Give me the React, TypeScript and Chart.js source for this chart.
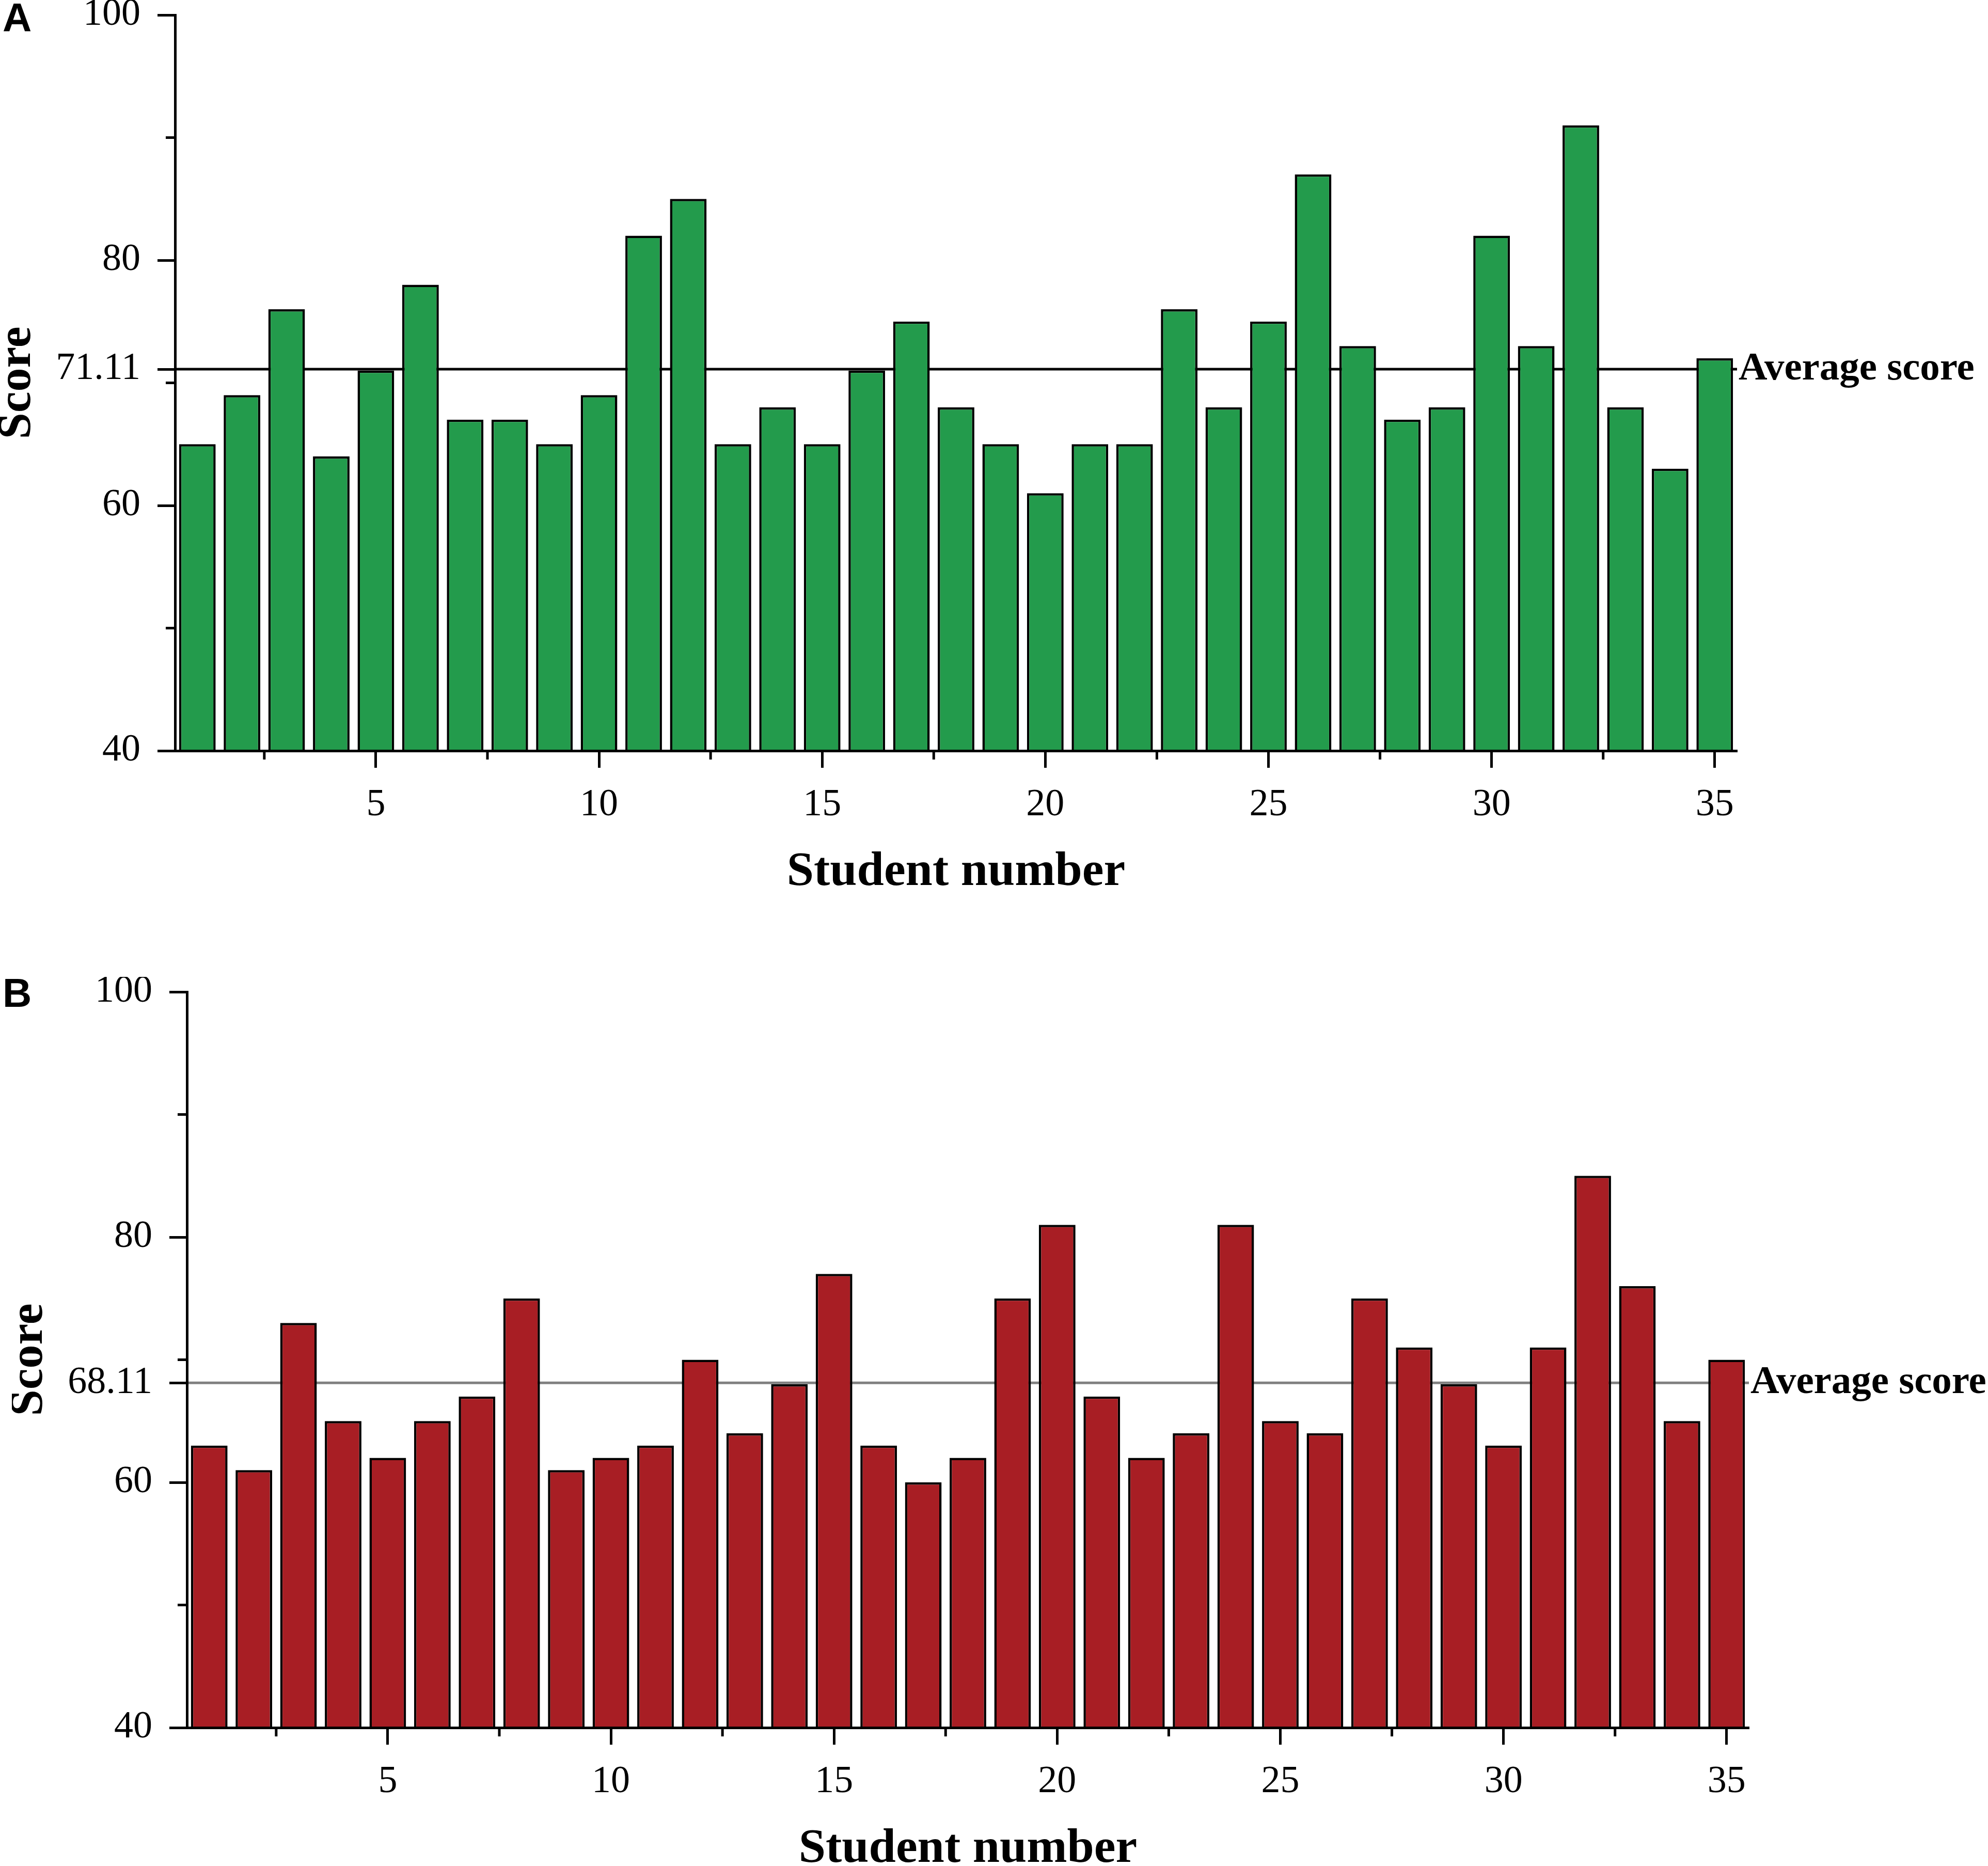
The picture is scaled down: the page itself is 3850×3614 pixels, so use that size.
import React, { useEffect, useRef } from "react";
import { Chart, registerables } from "chart.js";

Chart.register(...registerables);

// student numbers on the x axis
const studentNumbers = [
  1, 2, 3, 4, 5, 6, 7, 8, 9, 10, 11, 12, 13, 14, 15, 16, 17, 18, 19, 20, 21,
  22, 23, 24, 25, 26, 27, 28, 29, 30, 31, 32, 33, 34, 35,
];

// panel A scores (green)
const scoresA = [
  65, 69, 76, 64, 71, 78, 67, 67, 65, 69, 82, 85, 65, 68, 65, 71, 75, 68, 65,
  61, 65, 65, 76, 68, 75, 87, 73, 67, 68, 82, 73, 91, 68, 63, 72,
];

// panel B scores (red)
const scoresB = [
  63, 61, 73, 65, 62, 65, 67, 75, 61, 62, 63, 70, 64, 68, 77, 63, 60, 62, 75,
  81, 67, 62, 64, 81, 65, 64, 75, 71, 68, 63, 71, 85, 76, 65, 70,
];

const yMajorTicks = [40, 60, 80, 100];
const yMinorTicks = [50, 70, 90];
const xMajorTicks = [5, 10, 15, 20, 25, 30, 35];
const xMinorTicks = [2.5, 7.5, 12.5, 17.5, 22.5, 27.5, 32.5];

const X_MIN = 0.5;
const X_MAX = 35.5;
const Y_MIN = 40;
const Y_MAX = 100;

const CANVAS_W = 3850;
const CANVAS_H = 1760;
const PLOT_LEFT = 339;
const PLOT_RIGHT = 3364;
const PLOT_TOP = 29;
const PLOT_BOTTOM = 1454;

const SERIF = '"Liberation Serif", "Times New Roman", serif';

const minorTicks = {
  id: "minorTicks",
  afterDraw(chart: any) {
    const { ctx, chartArea, scales } = chart;
    ctx.save();
    ctx.strokeStyle = "#000";
    ctx.lineWidth = 5;
    ctx.lineCap = "butt";
    ctx.beginPath();
    yMinorTicks.forEach((v) => {
      const py = scales.y.getPixelForValue(v);
      ctx.moveTo(chartArea.left - 18, py);
      ctx.lineTo(chartArea.left, py);
    });
    xMinorTicks.forEach((v) => {
      const px = scales.x.getPixelForValue(v);
      ctx.moveTo(px, chartArea.bottom);
      ctx.lineTo(px, chartArea.bottom + 17);
    });
    ctx.stroke();
    ctx.restore();
  },
};

const averageLabel = {
  id: "averageLabel",
  afterDraw(chart: any, _args: any, opts: any) {
    const { ctx, chartArea, scales } = chart;
    ctx.save();
    ctx.fillStyle = "#000";
    ctx.font = `bold 77px ${SERIF}`;
    ctx.textAlign = "left";
    ctx.textBaseline = "middle";
    ctx.fillText(
      "Average score",
      chartArea.right + 3,
      scales.y.getPixelForValue(opts.value),
    );
    ctx.restore();
  },
};

type PanelProps = {
  scores: number[];
  fill: string;
  lineColor: string;
  left: number;
  top: number;
};

const ScorePanel: React.FC<PanelProps> = ({ scores, fill, lineColor, left, top }) => {
  const chartRef = useRef<HTMLCanvasElement | null>(null);

  useEffect(() => {
    if (!chartRef.current) return;
    const avg = scores.reduce((a, b) => a + b, 0) / scores.length;

    const chart = new Chart(chartRef.current, {
      type: "bar",
      data: {
        datasets: [
          {
            type: "bar",
            data: studentNumbers.map((n, i) => ({ x: n, y: scores[i] })),
            backgroundColor: fill,
            borderColor: "#000",
            borderWidth: 4.5,
            base: Y_MIN,
            barPercentage: 0.82,
            categoryPercentage: 1,
            order: 1,
          },
          {
            type: "line",
            data: [
              { x: X_MIN, y: avg },
              { x: X_MAX, y: avg },
            ],
            borderColor: lineColor,
            borderWidth: 5,
            pointRadius: 0,
            order: 2,
          },
        ],
      } as any,
      options: {
        animation: false,
        responsive: false,
        devicePixelRatio: 1,
        layout: {
          padding: { left: 0, top: PLOT_TOP, right: CANVAS_W - PLOT_RIGHT, bottom: 0 },
        },
        plugins: {
          legend: { display: false },
          tooltip: { enabled: false },
          averageLabel: { value: avg },
        } as any,
        scales: {
          x: {
            type: "linear",
            min: X_MIN,
            max: X_MAX,
            offset: false,
            afterBuildTicks: (s: any) => {
              s.ticks = xMajorTicks.map((v) => ({ value: v }));
            },
            afterFit: (s: any) => {
              s.height = CANVAS_H - PLOT_BOTTOM;
              s.paddingLeft = 0;
              s.paddingRight = 0;
            },
            grid: {
              drawOnChartArea: false,
              drawTicks: true,
              tickLength: 33,
              tickWidth: 5,
              tickColor: "#000",
              offset: false,
              z: 1,
            },
            border: { display: true, color: "#000", width: 5, z: 1 },
            ticks: {
              color: "#000",
              font: { family: SERIF, size: 74 },
              padding: 28,
              maxRotation: 0,
              autoSkip: false,
              callback: (v: any) => String(v),
            },
            title: {
              display: true,
              text: "Student number",
              color: "#000",
              font: { family: SERIF, size: 94, weight: "bold" },
              padding: { top: 0, bottom: 14 },
            },
          },
          y: {
            min: Y_MIN,
            max: Y_MAX,
            afterBuildTicks: (s: any) => {
              s.ticks = [...yMajorTicks, avg]
                .sort((a, b) => a - b)
                .map((v) => ({ value: v }));
            },
            afterFit: (s: any) => {
              s.width = PLOT_LEFT;
              s.paddingTop = 0;
              s.paddingBottom = 0;
            },
            grid: {
              drawOnChartArea: false,
              drawTicks: true,
              tickLength: 34,
              tickWidth: 5,
              tickColor: "#000",
              z: 1,
            },
            border: { display: true, color: "#000", width: 5, z: 1 },
            ticks: {
              color: "#000",
              font: { family: SERIF, size: 74 },
              padding: 33,
              autoSkip: false,
              callback: (v: any) =>
                Math.abs(v - avg) < 1e-9 ? avg.toFixed(2) : String(v),
            },
            title: {
              display: true,
              text: "Score",
              color: "#000",
              font: { family: SERIF, size: 92, weight: "bold", lineHeight: 0.74 },
              padding: 0,
            },
          },
        },
      } as any,
      plugins: [minorTicks, averageLabel],
    });

    return () => {
      chart.destroy();
    };
  }, [scores, fill, lineColor]);

  return (
    <canvas
      ref={chartRef}
      width={CANVAS_W}
      height={CANVAS_H}
      style={{ position: "absolute", left, top, width: CANVAS_W, height: CANVAS_H }}
    />
  );
};

const letterStyle: React.CSSProperties = {
  position: "absolute",
  left: 5,
  fontFamily: '"Liberation Sans", Arial, sans-serif',
  fontWeight: "bold",
  fontSize: 78,
  lineHeight: "78px",
  color: "#000",
};

export default function App() {
  return (
    <div
      style={{
        position: "absolute",
        left: 0,
        top: 0,
        width: 3850,
        height: 3614,
        overflow: "hidden",
        background: "#fff",
      }}
    >
      <ScorePanel scores={scoresA} fill="#239B4C" lineColor="#000" left={0} top={0} />
      <ScorePanel scores={scoresB} fill="#A81E24" lineColor="#808080" left={23} top={1892} />
      <div style={{ ...letterStyle, top: -5 }}>A</div>
      <div style={{ ...letterStyle, top: 1884 }}>B</div>
    </div>
  );
}
